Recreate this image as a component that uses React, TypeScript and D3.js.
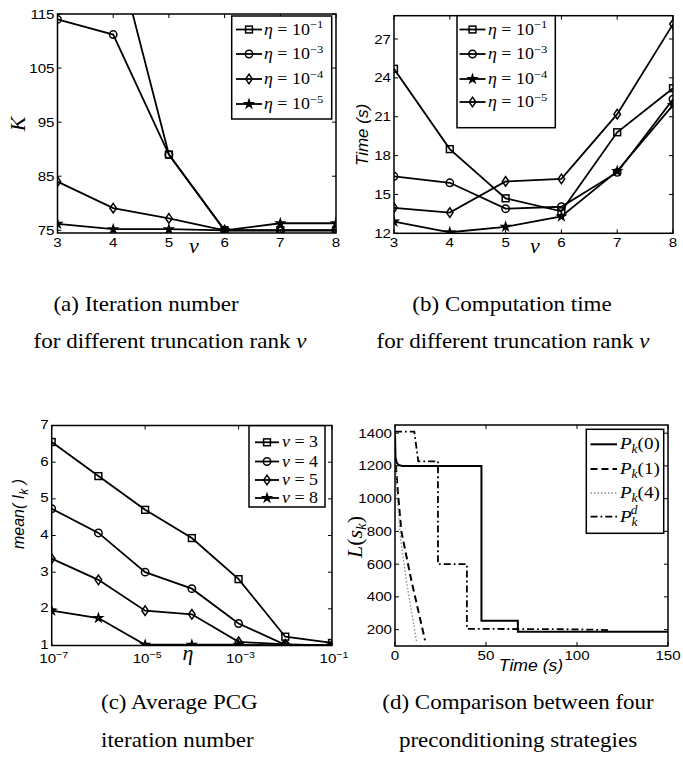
import React, { useRef, useEffect } from "react";
import * as d3 from "d3";

type Pt = [number, number];
type Sel = d3.Selection<any, unknown, null, undefined>;

// (a) iteration number K vs truncation rank v
const rankV = [3, 4, 5, 6, 7, 8];
const kEta1 = [150, 129, 89, 75, 75, 75];
const kEta3 = [114, 111.2, 89, 75, 75, 75];
const kEta4 = [84, 79.1, 77.2, 75, 75, 75];
const kEta5 = [76.2, 75.2, 75.2, 75, 76.3, 76.3];
const kTicks = [75, 85, 95, 105, 115];
const legendA = ["-1", "-3", "-4", "-5"];

// (b) computation time vs truncation rank v
const tEta1 = [24.7, 18.5, 14.7, 13.7, 19.8, 23.2];
const tEta3 = [16.4, 15.9, 13.9, 14.05, 16.7, 22.35];
const tEta4 = [12.9, 12.08, 12.5, 13.3, 16.8, 21.9];
const tEta5 = [13.97, 13.6, 16.0, 16.2, 21.2, 28.15];
const timeTicks = [12, 15, 18, 21, 24, 27];
const legendB = ["-1", "-3", "-4", "-5"];

// (c) average PCG iterations vs eta
const etaVals = [1e-7, 1e-6, 1e-5, 1e-4, 1e-3, 1e-2, 1e-1];
const meanV3 = [6.55, 5.62, 4.7, 3.93, 2.81, 1.24, 1.07];
const meanV4 = [4.73, 4.07, 3.0, 2.55, 1.6, 1.02, 1.0];
const meanV5 = [3.37, 2.79, 1.95, 1.85, 1.1, 1.03, 1.0];
const meanV8 = [1.95, 1.75, 1.02, 1.02, 1.02, 1.0, 1.0];
const etaTicks = [1e-7, 1e-5, 1e-3, 1e-1];
const meanTicks = [1, 2, 3, 4, 5, 6, 7];
const legendC = ["3", "4", "5", "8"];

// (d) L(s_k) over time for four preconditioners
const p0Time = [0, 0.3, 1, 2, 4, 47.5, 47.5, 67.5, 67.5, 150];
const p0L = [1390, 1250, 1218, 1206, 1200, 1200, 255, 255, 187, 187];
const p1Time = [0.5, 1.5, 3.5, 9, 16.5];
const p1L = [1205, 1050, 800, 500, 135];
const p4Time = [0.4, 1.2, 3, 6.5, 11.8];
const p4L = [1200, 1000, 760, 480, 130];
const pdTime = [0, 10.6, 12.8, 23.6, 23.6, 39.5, 39.5, 100, 118];
const pdL = [1410, 1410, 1228, 1228, 600, 600, 205, 202, 197];
const dTimeTicks = [0, 50, 100, 150];
const dLTicks = [200, 400, 600, 800, 1000, 1200, 1400];
const legendD = ["0", "1", "4", "d"];

const SANS = "'Liberation Sans', Arial, sans-serif";
const SERIF = "'Liberation Serif', 'Times New Roman', serif";
const TICK_SIZE = 13.5;
const TICK_SX = 1.12;

const zip = (xs: number[], ys: number[]): Pt[] => xs.map((x, i) => [x, ys[i]]);

// text that is stretched horizontally, like the scaled-up original figure
const wideText = (parent: Sel, x: number, y: number, sx: number, anchor = "start") =>
  parent.append("g").attr("transform", `translate(${x},${y}) scale(${sx},1)`)
    .append("text").attr("x", 0).attr("y", 0).attr("text-anchor", anchor);

const drawMarker = (g: Sel, kind: string, cx: number, cy: number) => {
  if (kind === "square") {
    g.append("rect").attr("x", cx - 3.4).attr("y", cy - 3.4).attr("width", 6.8).attr("height", 6.8)
      .attr("fill", "none").attr("stroke", "black").attr("stroke-width", 1.5);
  } else if (kind === "circle") {
    g.append("circle").attr("cx", cx).attr("cy", cy).attr("r", 3.7)
      .attr("fill", "none").attr("stroke", "black").attr("stroke-width", 1.5);
  } else if (kind === "diamond") {
    g.append("path").attr("d", `M${cx},${cy - 4.8}L${cx + 3.3},${cy}L${cx},${cy + 4.8}L${cx - 3.3},${cy}Z`)
      .attr("fill", "none").attr("stroke", "black").attr("stroke-width", 1.5);
  } else if (kind === "star") {
    g.append("path").attr("d", d3.symbol(d3.symbolStar, 48)()!)
      .attr("transform", `translate(${cx},${cy})`).attr("fill", "black");
  }
};

const App: React.FC = () => {
  const svgRef = useRef<SVGSVGElement>(null);

  useEffect(() => {
    const svg = d3.select(svgRef.current);
    svg.selectAll("*").remove();
    svg.append("rect").attr("width", 683).attr("height", 769).attr("fill", "white");

    const frame = (id: string, x: any, y: any, xTicks: number[], yTicks: number[],
      xLabel: (g: Sel, v: number, px: number, py: number) => void, yShift = 4.5) => {
      const [x0, x1] = x.range();
      const [y0, y1] = y.range();
      svg.append("clipPath").attr("id", id).append("rect")
        .attr("x", x0).attr("y", y1).attr("width", x1 - x0).attr("height", y0 - y1);
      const g = svg.append("g");
      xTicks.forEach((t) => {
        const px = x(t);
        g.append("line").attr("x1", px).attr("x2", px).attr("y1", y0).attr("y2", y0 - 4).attr("stroke", "black");
        g.append("line").attr("x1", px).attr("x2", px).attr("y1", y1).attr("y2", y1 + 4).attr("stroke", "black");
        xLabel(g, t, px, y0);
      });
      yTicks.forEach((t) => {
        const py = y(t);
        g.append("line").attr("x1", x0).attr("x2", x0 + 4).attr("y1", py).attr("y2", py).attr("stroke", "black");
        g.append("line").attr("x1", x1).attr("x2", x1 - 4).attr("y1", py).attr("y2", py).attr("stroke", "black");
        wideText(g, x0 - 3, py + yShift, TICK_SX, "end")
          .attr("font-family", SANS).attr("font-size", TICK_SIZE).text(t);
      });
      return g;
    };
    const border = (x: any, y: any) => {
      const [x0, x1] = x.range();
      const [y0, y1] = y.range();
      svg.append("rect").attr("x", x0).attr("y", y1).attr("width", x1 - x0).attr("height", y0 - y1)
        .attr("fill", "none").attr("stroke", "black").attr("stroke-width", 1.5);
    };
    const plainX = (g: Sel, v: number, px: number, py: number) => {
      wideText(g, px, py + 14, TICK_SX, "middle")
        .attr("font-family", SANS).attr("font-size", TICK_SIZE).text(v);
    };

    const markerSeries = (clip: string, x: any, y: any, pts: Pt[], kind: string) => {
      const line = d3.line<Pt>().x((d) => x(d[0])).y((d) => y(d[1]));
      const g = svg.append("g").attr("clip-path", `url(#${clip})`);
      g.append("path").datum(pts).attr("d", line).attr("fill", "none")
        .attr("stroke", "black").attr("stroke-width", 1.8);
      pts.forEach((p) => drawMarker(g, kind, x(p[0]), y(p[1])));
    };

    const legendBox = (bx0: number, by0: number, bx1: number, by1: number) => {
      svg.append("rect").attr("x", bx0).attr("y", by0).attr("width", bx1 - bx0).attr("height", by1 - by0)
        .attr("fill", "white").attr("stroke", "black").attr("stroke-width", 1.5);
    };
    const etaText = (tx: number, ty: number, sym: string, rhs: string, exp: string | null, size: number) => {
      const t = wideText(svg, tx, ty, 1.12).attr("font-family", SERIF).attr("font-size", size);
      t.append("tspan").attr("font-style", "italic").text(sym);
      t.append("tspan").text(` = ${rhs}`);
      if (exp) t.append("tspan").attr("dy", -6.5).attr("font-size", size * 0.7).text(exp.replace("-", "\u2212"));
    };

    // ---------- (a) ----------
    const xA = d3.scaleLinear().domain([3, 8]).range([57.5, 336]);
    const yA = d3.scaleLinear().domain([74.5, 115]).range([233, 14]);
    frame("clipA", xA, yA, rankV, kTicks, plainX);
    const kinds = ["square", "circle", "diamond", "star"];
    [kEta1, kEta3, kEta4, kEta5].forEach((s, i) => markerSeries("clipA", xA, yA, zip(rankV, s), kinds[i]));
    border(xA, yA);
    legendBox(231.7, 16, 331.7, 119);
    [29.5, 54, 79, 104].forEach((ey, i) => {
      svg.append("line").attr("x1", 236).attr("x2", 262).attr("y1", ey).attr("y2", ey).attr("stroke", "black").attr("stroke-width", 1.8);
      drawMarker(svg as any, kinds[i], 249, ey);
      etaText(264, ey + 5, "\u03b7", "10", legendA[i], 16);
    });
    svg.append("text").attr("transform", "translate(25,124) rotate(-90)").attr("text-anchor", "middle")
      .attr("font-family", SERIF).attr("font-style", "italic").attr("font-size", 22).text("K");
    svg.append("text").attr("x", 194).attr("y", 253).attr("text-anchor", "middle")
      .attr("font-family", SERIF).attr("font-style", "italic").attr("font-size", 22).text("v");

    // ---------- (b) ----------
    const xB = d3.scaleLinear().domain([3, 8]).range([394, 673]);
    const yB = d3.scaleLinear().domain([12, 28.8]).range([233.3, 15.7]);
    frame("clipB", xB, yB, rankV, timeTicks, plainX);
    const kindsB = ["square", "circle", "star", "diamond"];
    [tEta1, tEta3, tEta4, tEta5].forEach((s, i) => markerSeries("clipB", xB, yB, zip(rankV, s), kindsB[i]));
    border(xB, yB);
    legendBox(457, 15.7, 555.3, 127.7);
    [29.5, 54, 79, 102].forEach((ey, i) => {
      svg.append("line").attr("x1", 459.5).attr("x2", 485.5).attr("y1", ey).attr("y2", ey).attr("stroke", "black").attr("stroke-width", 1.8);
      drawMarker(svg as any, kindsB[i], 472.5, ey);
      etaText(488, ey + 5, "\u03b7", "10", legendB[i], 16);
    });
    svg.append("text").attr("transform", "translate(368,135) rotate(-90)").attr("text-anchor", "middle")
      .attr("font-family", SANS).attr("font-style", "italic").attr("font-size", 17).text("Time (s)");
    svg.append("text").attr("x", 535).attr("y", 253).attr("text-anchor", "middle")
      .attr("font-family", SERIF).attr("font-style", "italic").attr("font-size", 22).text("v");

    // ---------- (c) ----------
    const xC = d3.scaleLog().domain([1e-7, 1e-1]).range([51.7, 332]);
    const yC = d3.scaleLinear().domain([1, 7]).range([645.5, 425.5]);
    frame("clipC", xC, yC, etaTicks, meanTicks, (g, v, px, py) => {
      const t = wideText(g, px + 2, py + 17.5, TICK_SX, "middle").attr("font-family", SANS).attr("font-size", TICK_SIZE);
      t.append("tspan").text("10");
      t.append("tspan").attr("dy", -5.5).attr("font-size", 9.5).text("\u2212" + Math.round(-Math.log10(v)));
    }, 3.5);
    const kindsC = ["square", "circle", "diamond", "star"];
    [meanV3, meanV4, meanV5, meanV8].forEach((s, i) => markerSeries("clipC", xC, yC, zip(etaVals, s), kindsC[i]));
    border(xC, yC);
    legendBox(249, 425.7, 325, 507);
    [442.3, 461.5, 480, 498].forEach((ey, i) => {
      svg.append("line").attr("x1", 255).attr("x2", 279).attr("y1", ey).attr("y2", ey).attr("stroke", "black").attr("stroke-width", 1.8);
      drawMarker(svg as any, kindsC[i], 267, ey);
      etaText(282, ey + 5, "v", legendC[i], null, 16);
    });
    {
      const t = svg.append("text").attr("transform", "translate(24,514) rotate(-90)").attr("text-anchor", "middle")
        .attr("font-family", SANS).attr("font-style", "italic").attr("font-size", 16);
      t.append("tspan").text("mean( I");
      t.append("tspan").attr("dy", 4).attr("font-size", 12).text("k");
      t.append("tspan").attr("dy", -4).text(" )");
    }
    svg.append("text").attr("x", 188).attr("y", 660).attr("text-anchor", "middle")
      .attr("font-family", SERIF).attr("font-style", "italic").attr("font-size", 22).text("\u03b7");

    // ---------- (d) ----------
    const xD = d3.scaleLinear().domain([0, 150]).range([395, 668]);
    const yD = d3.scaleLinear().domain([100, 1450]).range([646, 425]);
    frame("clipD", xD, yD, dTimeTicks, dLTicks, plainX);
    const lineD = d3.line<Pt>().x((d) => xD(d[0])).y((d) => yD(d[1]));
    const styles = [
      { dash: null, color: "black", w: 2 },
      { dash: "7,4", color: "black", w: 2 },
      { dash: "1.5,2", color: "#8a8a8a", w: 1.3 },
      { dash: "7,3,1.8,3", color: "black", w: 1.8 },
    ];
    const gD = svg.append("g").attr("clip-path", "url(#clipD)");
    [zip(p0Time, p0L), zip(p1Time, p1L), zip(p4Time, p4L), zip(pdTime, pdL)].forEach((pts, i) => {
      const st = styles[i];
      const p = gD.append("path").datum(pts).attr("d", lineD).attr("fill", "none")
        .attr("stroke", st.color).attr("stroke-width", st.w);
      if (st.dash) p.attr("stroke-dasharray", st.dash);
    });
    border(xD, yD);
    legendBox(586.3, 429.3, 663.7, 533.3);
    [444.3, 469, 493, 516.7].forEach((ey, i) => {
      const st = styles[i];
      const l = svg.append("line").attr("x1", 590.5).attr("x2", 617).attr("y1", ey).attr("y2", ey)
        .attr("stroke", st.color).attr("stroke-width", st.w);
      if (st.dash) l.attr("stroke-dasharray", st.dash);
      const t = wideText(svg, 620, ey + 5, 1.12).attr("font-family", SERIF).attr("font-size", 17);
      t.append("tspan").attr("font-style", "italic").text("P");
      if (legendD[i] === "d") {
        t.append("tspan").attr("dy", 4).attr("font-size", 12).attr("font-style", "italic").text("k");
        t.append("tspan").attr("dx", -6).attr("dy", -12).attr("font-size", 12).attr("font-style", "italic").text("d");
      } else {
        t.append("tspan").attr("dy", 4).attr("font-size", 12).attr("font-style", "italic").text("k");
        t.append("tspan").attr("dy", -4).text(`(${legendD[i]})`);
      }
    });
    {
      const t = svg.append("text").attr("transform", "translate(362,537) rotate(-90)").attr("text-anchor", "middle")
        .attr("font-family", SERIF).attr("font-size", 22);
      t.append("tspan").attr("font-style", "italic").text("L");
      t.append("tspan").text("(");
      t.append("tspan").attr("font-style", "italic").text("s");
      t.append("tspan").attr("dy", 4).attr("font-size", 15).attr("font-style", "italic").text("k");
      t.append("tspan").attr("dy", -4).text(")");
    }
    wideText(svg, 531, 671, 1.1, "middle")
      .attr("font-family", SANS).attr("font-style", "italic").attr("font-size", 16).text("Time (s)");

    // ---------- captions ----------
    const caption = (x: number, y: number, anchor: string, main: string, italicTail?: string) => {
      const t = wideText(svg, x, y, 1.15, anchor).attr("font-family", SERIF).attr("font-size", 20).text(main);
      if (italicTail) t.append("tspan").attr("font-style", "italic").text(italicTail);
    };
    caption(146, 311, "middle", "(a) Iteration number");
    caption(170, 348, "middle", "for different truncation rank ", "v");
    caption(512, 311, "middle", "(b) Computation time");
    caption(513, 348, "middle", "for different truncation rank ", "v");
    caption(101, 709, "start", "(c) Average PCG");
    caption(101, 747, "start", "iteration number");
    caption(518, 709, "middle", "(d) Comparison between four");
    caption(518, 747, "middle", "preconditioning strategies");
  }, []);

  return <svg ref={svgRef} width={683} height={769} style={{ position: "absolute", left: 0, top: 0 }} />;
};

export default App;
